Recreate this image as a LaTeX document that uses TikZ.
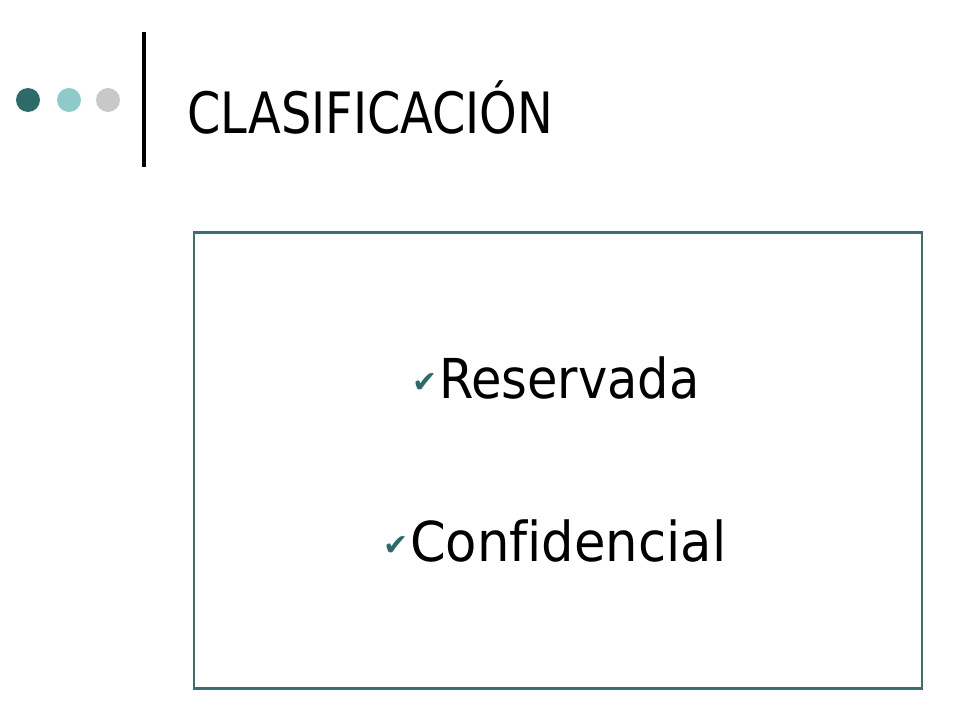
\documentclass[tikz,border=0pt]{standalone}
\usepackage{fontspec}
\setmainfont{DejaVu Sans Condensed}[Ligatures=NoCommon]
\newfontfamily\symfont{DejaVu Sans}
\definecolor{darkteal}{HTML}{2F6A6A}
\definecolor{lightteal}{HTML}{8FCACA}
\definecolor{lightgray}{HTML}{C8C8C8}
\definecolor{boxteal}{HTML}{3D6E6E}
\tikzset{
  dot/.style={circle, minimum size=24pt, inner sep=0pt},
  bigtext/.style={anchor=base west, inner sep=0pt, font=\fontsize{55}{60}\selectfont},
  checkmk/.style={anchor=south east, inner sep=0pt, text=darkteal, font=\symfont\fontsize{30}{32}\selectfont}
}
\begin{document}
\begin{tikzpicture}[x=1pt,y=-1pt]
\useasboundingbox (0,0) rectangle (960,720);
\fill[white] (0,0) rectangle (960,720);
\node[dot, fill=darkteal] (d1) at (28,100) {};
\node[dot, fill=lightteal] (d2) at (69,100) {};
\node[dot, fill=lightgray] (d3) at (108,100) {};
\coordinate (vtop) at (144,32);
\coordinate (vbot) at (144,167);
\draw[line width=4pt] (vtop) -- (vbot);
\node[bigtext, font=\fontsize{57}{60}\selectfont] (title) at (187,133) {\scalebox{0.933}[1]{CLASIFICACIÓN}};
\node[draw=boxteal, line width=2.5pt, minimum width=728pt, minimum height=456pt, anchor=north west, inner sep=0pt] (box) at (192.5,231) {};
\node[bigtext] (t1) at (439,398) {Reservada};
\node[checkmk] (c1) at ([xshift=-1pt,yshift=5pt]t1.base west) {✔};
\node[bigtext] (t2) at (410,561) {\scalebox{1.035}[1]{Confidencial}};
\node[checkmk] (c2) at ([xshift=-1pt,yshift=5pt]t2.base west) {✔};
\end{tikzpicture}
\end{document}
